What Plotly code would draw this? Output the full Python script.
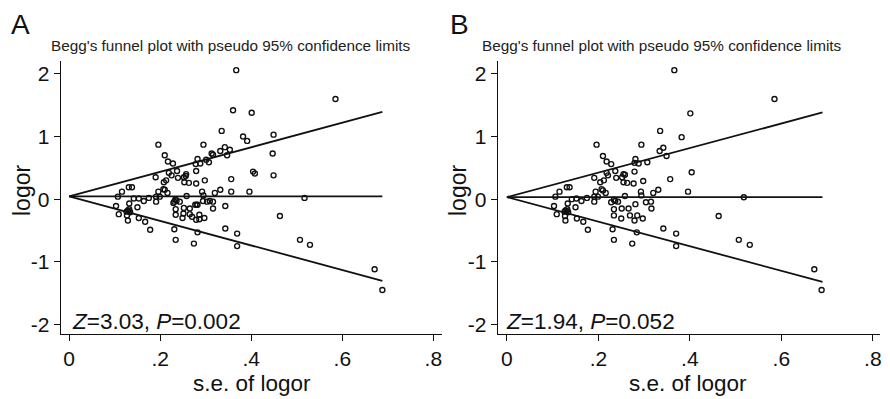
import plotly.graph_objects as go

# ---------------- data ----------------
panel_labels = ["A", "B"]
panel_title = "Begg's funnel plot with pseudo 95% confidence limits"
stats_text = ["<i>Z</i>=3.03, <i>P</i>=0.002", "<i>Z</i>=1.94, <i>P</i>=0.052"]
x_title = "s.e. of logor"
y_title = "logor"
x_tickvals = [0, 0.2, 0.4, 0.6, 0.8]
x_ticktext = ["0", ".2", ".4", ".6", ".8"]
y_tickvals = [-2, -1, 0, 1, 2]
y_ticktext = ["-2", "-1", "0", "1", "2"]

pooled_a = 0.045
pooled_b = 0.032
se_max_a = 0.688
se_max_b = 0.690
z_crit = 1.96

se_a = [0.367, 0.585, 0.360, 0.401, 0.335, 0.382, 0.391, 0.449, 0.196, 0.295,
        0.342, 0.332, 0.353, 0.313, 0.316, 0.347, 0.447, 0.210, 0.217, 0.228,
        0.282, 0.301, 0.307, 0.288, 0.278, 0.237, 0.279, 0.219, 0.225, 0.257,
        0.256, 0.404, 0.408, 0.449, 0.190, 0.239, 0.252, 0.356, 0.298, 0.208,
        0.213, 0.253, 0.263, 0.279, 0.207, 0.210, 0.332, 0.320, 0.292, 0.356,
        0.396, 0.196, 0.216, 0.116, 0.131, 0.138, 0.107, 0.142, 0.153, 0.164,
        0.175, 0.191, 0.199, 0.191, 0.295, 0.294, 0.303, 0.309, 0.316, 0.258,
        0.517, 0.231, 0.233, 0.236, 0.243, 0.229, 0.252, 0.277, 0.282, 0.316,
        0.343, 0.103, 0.109, 0.129, 0.132, 0.134, 0.127, 0.132, 0.129, 0.150,
        0.153, 0.167, 0.178, 0.234, 0.234, 0.251, 0.249, 0.265, 0.265, 0.270,
        0.279, 0.286, 0.286, 0.297, 0.282, 0.231, 0.234, 0.274, 0.343, 0.369,
        0.369, 0.463, 0.507, 0.529, 0.671, 0.688, 0.126, 0.131, 0.280]
logor_a = [2.06, 1.60, 1.42, 1.38, 1.09, 1.00, 0.93, 1.03, 0.87, 0.87,
           0.83, 0.77, 0.79, 0.73, 0.71, 0.70, 0.73, 0.70, 0.60, 0.57,
           0.64, 0.63, 0.59, 0.57, 0.56, 0.45, 0.45, 0.42, 0.38, 0.40,
           0.37, 0.44, 0.41, 0.38, 0.35, 0.34, 0.35, 0.32, 0.30, 0.27,
           0.30, 0.27, 0.26, 0.25, 0.16, 0.15, 0.15, 0.10, 0.12, 0.12,
           0.12, 0.12, 0.10, 0.12, 0.19, 0.19, 0.04, 0.01, 0.01, -0.03,
           0.02, 0.04, 0.04, -0.04, 0.06, -0.03, -0.04, -0.03, -0.04, 0.05,
           0.02, -0.04, -0.01, -0.02, -0.04, -0.06, -0.14, -0.09, -0.09, -0.15,
           -0.11, -0.11, -0.24, -0.18, -0.16, -0.21, -0.26, -0.07, -0.34, -0.13,
           -0.30, -0.36, -0.49, -0.16, -0.25, -0.23, -0.30, -0.15, -0.24, -0.28,
           -0.33, -0.32, -0.25, -0.30, -0.53, -0.48, -0.65, -0.71, -0.47, -0.55,
           -0.75, -0.27, -0.65, -0.73, -1.12, -1.45, -0.20, -0.19, -0.09]

se_b = [0.366, 0.585, 0.401, 0.335, 0.382, 0.196, 0.294, 0.342, 0.334, 0.349,
        0.210, 0.218, 0.228, 0.281, 0.279, 0.288, 0.307, 0.237, 0.279, 0.218,
        0.221, 0.255, 0.258, 0.404, 0.191, 0.239, 0.252, 0.357, 0.298, 0.204,
        0.212, 0.255, 0.263, 0.277, 0.207, 0.210, 0.331, 0.320, 0.293, 0.396,
        0.194, 0.216, 0.115, 0.131, 0.137, 0.106, 0.142, 0.152, 0.163, 0.175,
        0.191, 0.199, 0.191, 0.294, 0.304, 0.315, 0.258, 0.518, 0.228, 0.234,
        0.237, 0.243, 0.251, 0.281, 0.316, 0.103, 0.109, 0.128, 0.132, 0.134,
        0.127, 0.133, 0.128, 0.150, 0.153, 0.167, 0.177, 0.234, 0.234, 0.250,
        0.266, 0.269, 0.279, 0.285, 0.297, 0.284, 0.231, 0.234, 0.274, 0.342,
        0.370, 0.370, 0.463, 0.507, 0.531, 0.672, 0.688, 0.126, 0.131]
logor_b = [2.06, 1.60, 1.37, 1.09, 0.99, 0.87, 0.87, 0.82, 0.77, 0.69,
           0.69, 0.60, 0.56, 0.64, 0.58, 0.57, 0.59, 0.45, 0.44, 0.42,
           0.38, 0.40, 0.39, 0.43, 0.34, 0.34, 0.35, 0.32, 0.29, 0.27,
           0.30, 0.27, 0.26, 0.25, 0.16, 0.14, 0.15, 0.10, 0.12, 0.12,
           0.12, 0.10, 0.12, 0.19, 0.19, 0.04, 0.00, 0.01, -0.03, 0.02,
           0.04, 0.04, -0.04, 0.06, -0.05, -0.04, 0.05, 0.03, -0.05, -0.01,
           -0.03, -0.04, -0.15, -0.08, -0.15, -0.11, -0.24, -0.18, -0.16, -0.21,
           -0.27, -0.07, -0.34, -0.13, -0.31, -0.36, -0.49, -0.16, -0.26, -0.31,
           -0.15, -0.26, -0.34, -0.26, -0.31, -0.53, -0.48, -0.65, -0.71, -0.47,
           -0.55, -0.75, -0.27, -0.65, -0.73, -1.12, -1.45, -0.20, -0.19]

# ---------------- figure ----------------
W, H = 890, 399
FONT = "Liberation Sans, Arial, sans-serif"
INK = "#111111"

# pixel geometry of the two plot areas (left, right) and shared top/bottom
px_a = (61, 443)
px_b = (499, 882)
px_top, px_bottom = 61.7, 335.7
xr_a = [-0.0182, 0.819]
xr_b = [-0.0197, 0.8157]
yr = [-2.154, 2.2]

def fx(p):
    return p / W

def fy(p):
    return 1 - p / H

fig = go.Figure()

panels = [
    (se_a, logor_a, pooled_a, se_max_a, "x", "y"),
    (se_b, logor_b, pooled_b, se_max_b, "x2", "y2"),
]
for se, lo, pooled, smax, xa, ya in panels:
    line_style = dict(color=INK, width=1.8)
    fig.add_trace(go.Scatter(x=[0, smax], y=[pooled, pooled + z_crit * smax],
                             mode="lines", line=line_style, xaxis=xa, yaxis=ya,
                             showlegend=False, hoverinfo="skip"))
    fig.add_trace(go.Scatter(x=[0, smax], y=[pooled, pooled - z_crit * smax],
                             mode="lines", line=line_style, xaxis=xa, yaxis=ya,
                             showlegend=False, hoverinfo="skip"))
    fig.add_trace(go.Scatter(x=[0, smax], y=[pooled, pooled],
                             mode="lines", line=line_style, xaxis=xa, yaxis=ya,
                             showlegend=False, hoverinfo="skip"))
    fig.add_trace(go.Scatter(x=se, y=lo, mode="markers",
                             marker=dict(symbol="circle-open", size=5, color=INK,
                                         line=dict(width=1.4, color=INK)),
                             xaxis=xa, yaxis=ya, showlegend=False))

axis_common = dict(
    showgrid=False, zeroline=False, showline=True, linecolor=INK, linewidth=1.3,
    ticks="outside", ticklen=6, tickwidth=1.3, tickcolor=INK,
    tickfont=dict(family=FONT, size=21, color=INK), fixedrange=True,
)

fig.update_layout(
    width=W, height=H,
    margin=dict(l=0, r=0, t=0, b=0),
    paper_bgcolor="white", plot_bgcolor="white",
    xaxis=dict(domain=[fx(px_a[0]), fx(px_a[1])], range=xr_a, anchor="y",
               tickvals=x_tickvals, ticktext=x_ticktext, **axis_common),
    yaxis=dict(domain=[fy(px_bottom), fy(px_top)], range=yr, anchor="x",
               tickvals=y_tickvals, ticktext=y_ticktext, **axis_common),
    xaxis2=dict(domain=[fx(px_b[0]), fx(px_b[1])], range=xr_b, anchor="y2",
                tickvals=x_tickvals, ticktext=x_ticktext, **axis_common),
    yaxis2=dict(domain=[fy(px_bottom), fy(px_top)], range=yr, anchor="x2",
                tickvals=y_tickvals, ticktext=y_ticktext, **axis_common),
)

ann = []
# panel letters
for label, x in zip(panel_labels, [9, 449]):
    ann.append(dict(text=label, x=fx(x), y=fy(25), xref="paper", yref="paper",
                    xanchor="left", yanchor="middle", showarrow=False,
                    font=dict(family=FONT, size=28, color=INK)))
# titles
for cx in [231.7, 663.3]:
    ann.append(dict(text=panel_title, x=fx(cx), y=fy(46), xref="paper", yref="paper",
                    xanchor="center", yanchor="middle", showarrow=False,
                    font=dict(family=FONT, size=15.3, color="#222222")))
# stats
for txt, x in zip(stats_text, [70, 505]):
    ann.append(dict(text=txt, x=fx(x), y=fy(323), xref="paper", yref="paper",
                    xanchor="left", yanchor="middle", showarrow=False,
                    font=dict(family=FONT, size=22.5, color=INK)))
# axis titles
for cx in [253, 690]:
    ann.append(dict(text=x_title, x=fx(cx), y=fy(385), xref="paper", yref="paper",
                    xanchor="center", yanchor="middle", showarrow=False,
                    font=dict(family=FONT, size=22.5, color=INK)))
for cx in [22, 459]:
    ann.append(dict(text=y_title, x=fx(cx), y=fy(191), xref="paper", yref="paper",
                    xanchor="center", yanchor="middle", showarrow=False, textangle=-90,
                    font=dict(family=FONT, size=23, color=INK)))
fig.update_layout(annotations=ann)

fig.write_html("out.html")
